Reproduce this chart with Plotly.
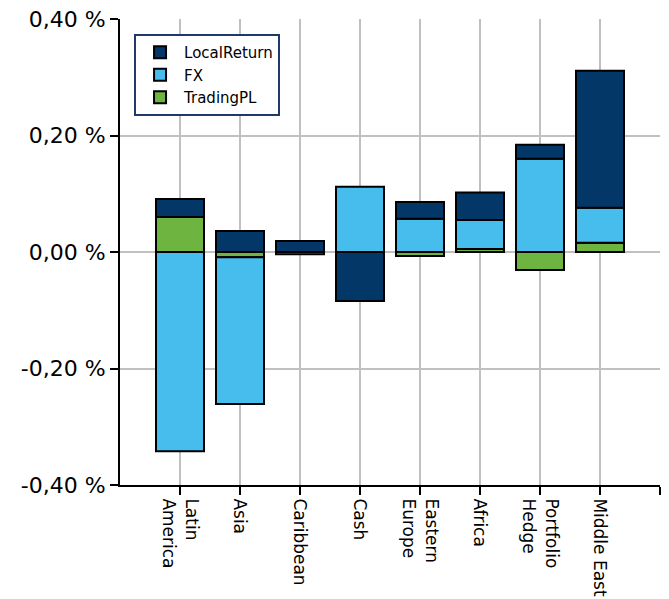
import plotly.graph_objects as go

categories = ["Latin<br>America", "Asia", "Caribbean", "Cash", "Eastern<br>Europe",
              "Africa", "Portfolio<br>Hedge", "Middle East"]
local_return = [0.031, 0.036, 0.019, -0.084, 0.029, 0.047, 0.024, 0.235]
fx = [-0.342, -0.252, -0.004, 0.112, 0.057, 0.050, 0.160, 0.060]
trading_pl = [0.060, -0.009, 0.0, 0.0, -0.007, 0.005, -0.031, 0.016]

y_tick_vals = [-0.4, -0.2, 0.0, 0.2, 0.4]
y_tick_text = ["-0,40 %", "-0,20 %", "0,00 %", "0,20 %", "0,40 %"]

colors = {"LocalReturn": "#033768", "FX": "#46bdec", "TradingPL": "#6db540"}

x = list(range(len(categories)))
fig = go.Figure()
for name, vals in [("TradingPL", trading_pl), ("FX", fx), ("LocalReturn", local_return)]:
    fig.add_trace(go.Bar(
        x=x, y=vals, name=name, width=0.8,
        marker=dict(color=colors[name], line=dict(color="black", width=2)),
    ))

fig.update_layout(
    width=669, height=599,
    margin=dict(l=120, r=9, t=19, b=114),
    barmode="relative",
    plot_bgcolor="white", paper_bgcolor="white",
    font=dict(family="DejaVu Sans", color="black"),
    showlegend=True,
    legend=dict(
        x=0.026, y=0.968, xanchor="left", yanchor="top",
        traceorder="reversed",
        bordercolor="#1f3a6a", borderwidth=2, bgcolor="white",
        font=dict(size=15, family="DejaVu Sans"),
        itemwidth=38,
    ),
    xaxis=dict(
        range=[-1, 8],
        tickvals=x + [8], ticktext=categories + [""],
        tickangle=90,
        automargin=False,
        showgrid=True, gridcolor="#c0c0c0", gridwidth=2,
        showline=True, linecolor="black", linewidth=2,
        ticks="outside", ticklen=8, tickwidth=2, tickcolor="black",
        tickfont=dict(size=17, family="DejaVu Sans"),
        zeroline=False,
    ),
    yaxis=dict(
        range=[-0.4, 0.4],
        tickvals=y_tick_vals, ticktext=y_tick_text,
        automargin=False,
        showgrid=True, gridcolor="#c0c0c0", gridwidth=2,
        zeroline=True, zerolinecolor="#c0c0c0", zerolinewidth=2,
        showline=True, linecolor="black", linewidth=2,
        ticks="outside", ticklen=8, tickwidth=2, tickcolor="black",
        tickfont=dict(size=22, family="DejaVu Sans"),
    ),
)

fig.write_html("out.html")
